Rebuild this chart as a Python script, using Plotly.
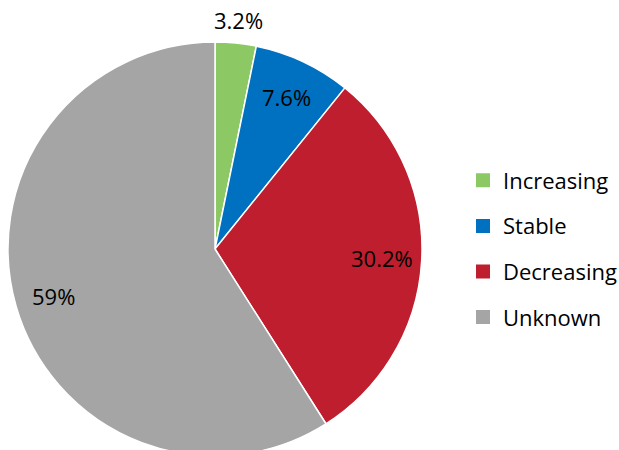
import math
import plotly.graph_objects as go

categories = ["Increasing", "Stable", "Decreasing", "Unknown"]
values = [3.2, 7.6, 30.2, 59]
value_labels = ["3.2%", "7.6%", "30.2%", "59%"]
colors = ["#8CC864", "#0070C0", "#BE1E2D", "#A5A5A5"]
label_outside = [True, False, False, False]

FONT = "Open Sans"
FS = 22
W = 619
H = 456  # the pie's bottom edge runs just past the 450px window, as in the reference

# pie geometry (pixels)
dom_x = [8 / W, 422 / W]
dom_y = [0, 1 - 42 / H]
cx = (dom_x[0] + dom_x[1]) / 2 * W
pie_h = (dom_y[1] - dom_y[0]) * H
R = pie_h / 2
cy_from_top = H - (dom_y[0] * H + R)

fig = go.Figure()
fig.add_trace(
    go.Pie(
        labels=categories,
        values=values,
        textinfo="none",
        sort=False,
        direction="clockwise",
        rotation=0,
        marker=dict(colors=colors, line=dict(color="white", width=1.5)),
        domain=dict(x=dom_x, y=dom_y),
        showlegend=False,
        hoverinfo="label+percent",
    )
)

# legend entries (one per category so rows can be spaced)
for cat, col in zip(categories, colors):
    fig.add_trace(
        go.Scatter(
            x=[None], y=[None], mode="markers", name=cat, legendgroup=cat,
            marker=dict(symbol="square", size=14, color=col),
        )
    )

# value labels placed from the data angles
total = sum(values)
cum = 0.0
for v, txt, outside in zip(values, value_labels, label_outside):
    mid = (cum + v / 2) / total * 2 * math.pi
    cum += v
    rf = 1.11 if outside else 0.81
    px = cx + rf * R * math.sin(mid)
    py = cy_from_top - rf * R * math.cos(mid)
    fig.add_annotation(
        x=px / W, y=1 - py / H, xref="paper", yref="paper",
        text=txt, showarrow=False, xanchor="center", yanchor="middle",
        font=dict(family=FONT, size=FS, color="black"),
    )

fig.update_layout(
    width=W,
    height=H,
    margin=dict(l=0, r=0, t=0, b=0, autoexpand=False),
    paper_bgcolor="white",
    plot_bgcolor="white",
    font=dict(family=FONT, size=FS, color="black"),
    xaxis=dict(visible=False),
    yaxis=dict(visible=False),
    showlegend=True,
    legend=dict(
        x=463 / W,
        xanchor="left",
        y=1 - 249 / H,
        yanchor="middle",
        tracegroupgap=14,
        font=dict(family=FONT, size=FS, color="black"),
        bgcolor="rgba(0,0,0,0)",
    ),
)

fig.write_html(
    "out.html",
    config={"displayModeBar": False},
    post_script="document.body.style.margin='0';document.body.style.overflow='hidden';",
)
